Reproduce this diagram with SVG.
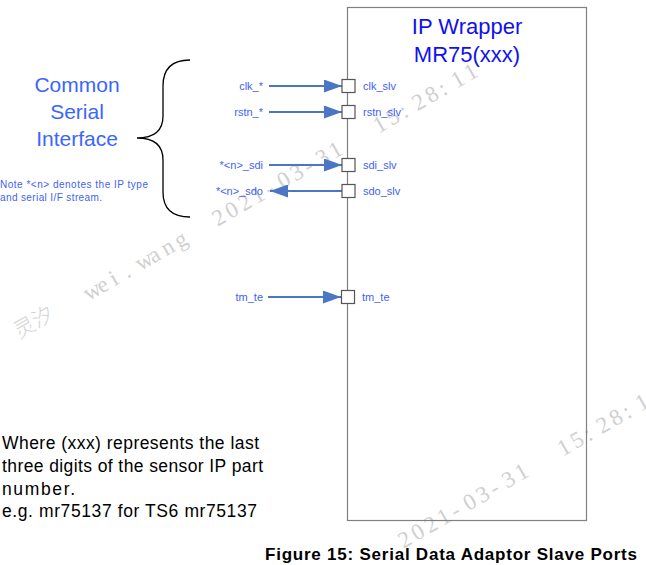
<svg xmlns="http://www.w3.org/2000/svg" width="646" height="565" viewBox="0 0 646 565">
<style>
.wm{font-family:"Liberation Serif","Times New Roman",serif;font-size:23px;fill:#d0d0d0}
.wmc{font-family:"Noto Sans CJK SC",sans-serif;font-size:21px;font-weight:300;fill:#d2d2d2}
.lbl{font-family:"Liberation Sans",Arial,sans-serif;font-size:11px;fill:#3f62f2}
.big{font-family:"Liberation Sans",Arial,sans-serif;font-size:21px;fill:#3a66ff;text-anchor:middle}
.title{font-family:"Liberation Sans",Arial,sans-serif;font-size:22px;fill:#1010f0;text-anchor:middle}
.note{font-family:"Liberation Sans",Arial,sans-serif;font-size:10px;fill:#3f62f2}
.para{font-family:"Liberation Sans",Arial,sans-serif;font-size:17.5px;fill:#000}
.cap{font-family:"Liberation Sans",Arial,sans-serif;font-size:17px;font-weight:bold;fill:#000}
.conn{stroke:#4a76c4;stroke-width:1.8;fill:none;marker-end:url(#ah)}
.port{fill:#fff;stroke:#555;stroke-width:1.2}
</style>
<defs>
<marker id="ah" viewBox="0 0 18 13" refX="18" refY="6.5" markerWidth="18" markerHeight="13" markerUnits="userSpaceOnUse" orient="auto">
<path d="M0,0 L18,6.5 L0,13 z" fill="#4a76c4"/>
</marker>
</defs>
<rect width="646" height="565" fill="#fff"/>
<g id="watermark">
<g transform="rotate(-30)">
<text class="wmc" x="-153" y="303">灵汐</text>
<text class="wm" x="-74 -59 -44 -29 -14 1 16 31" y="305">wei.wang</text>
<text class="wm" x="75 90 105 120 135 150 165 180 195 210" y="305">2021-03-31</text>
<text class="wm" x="261 276 291 306 321 336 351 366" y="305">15:28:11</text>
<text class="wm" x="75 90 105 120 135 150 165 180 195 210" y="677">2021-03-31</text>
<text class="wm" x="259 274 289 304 319 334 349 364" y="677">15:28:11</text>
</g>
</g>
<g id="ip_wrapper">
<rect x="347.5" y="7.5" width="239" height="513" fill="none" stroke="#808080" stroke-width="1.2"/>
<text class="title" x="467" y="34">IP Wrapper</text>
<text class="title" x="467" y="62">MR75(xxx)</text>
</g>
<g id="brace">
<path d="M190,60 C172,60 163,68 163,86 L163,116 C163,131 154,138 137,138 C154,138 163,145 163,160 L163,192 C163,209 172,217 190,217" fill="none" stroke="#000" stroke-width="1.3"/>
<text class="big" x="77" y="92">Common</text>
<text class="big" x="77" y="119">Serial</text>
<text class="big" x="77" y="146">Interface</text>
<text class="note" x="0" y="188" textLength="148" lengthAdjust="spacing">Note *&lt;n&gt; denotes the IP type</text>
<text class="note" x="0" y="200.5" textLength="102" lengthAdjust="spacing">and serial I/F stream.</text>
</g>
<g id="connectors">
<path class="conn" d="M269,86 L342,86"/>
<path class="conn" d="M269,112 L342,112"/>
<path class="conn" d="M269,165 L342,165"/>
<path class="conn" d="M342,191 L270,191"/>
<path class="conn" d="M268,297 L341,297"/>
</g>
<g id="port_clk">
<rect class="port" x="342" y="79.5" width="13" height="13"/>
<text class="lbl" x="263" y="90" text-anchor="end">clk_*</text>
<text class="lbl" x="363" y="90">clk_slv</text>
</g>
<g id="port_rstn">
<rect class="port" x="342" y="105.5" width="13" height="13"/>
<text class="lbl" x="263" y="116" text-anchor="end">rstn_*</text>
<text class="lbl" x="363" y="116">rstn_slv</text>
</g>
<g id="port_sdi">
<rect class="port" x="342" y="158.5" width="13" height="13"/>
<text class="lbl" x="263" y="169" text-anchor="end">*&lt;n&gt;_sdi</text>
<text class="lbl" x="363" y="169">sdi_slv</text>
</g>
<g id="port_sdo">
<rect class="port" x="342" y="184.5" width="13" height="13"/>
<text class="lbl" x="263" y="195" text-anchor="end">*&lt;n&gt;_sdo</text>
<text class="lbl" x="363" y="195">sdo_slv</text>
</g>
<g id="port_tm_te">
<rect class="port" x="341.5" y="290.5" width="13" height="13"/>
<text class="lbl" x="263" y="301" text-anchor="end">tm_te</text>
<text class="lbl" x="362" y="301">tm_te</text>
</g>
<g id="description">
<text class="para" x="2" y="449" textLength="257" lengthAdjust="spacing">Where (xxx) represents the last</text>
<text class="para" x="2" y="472" textLength="261" lengthAdjust="spacing">three digits of the sensor IP part</text>
<text class="para" x="2" y="495" textLength="73" lengthAdjust="spacing">number.</text>
<text class="para" x="2" y="517" textLength="255" lengthAdjust="spacing">e.g. mr75137 for TS6 mr75137</text>
</g>
<g id="caption">
<text class="cap" x="265" y="560" textLength="372" lengthAdjust="spacing">Figure 15: Serial Data Adaptor Slave Ports</text>
</g>
</svg>
